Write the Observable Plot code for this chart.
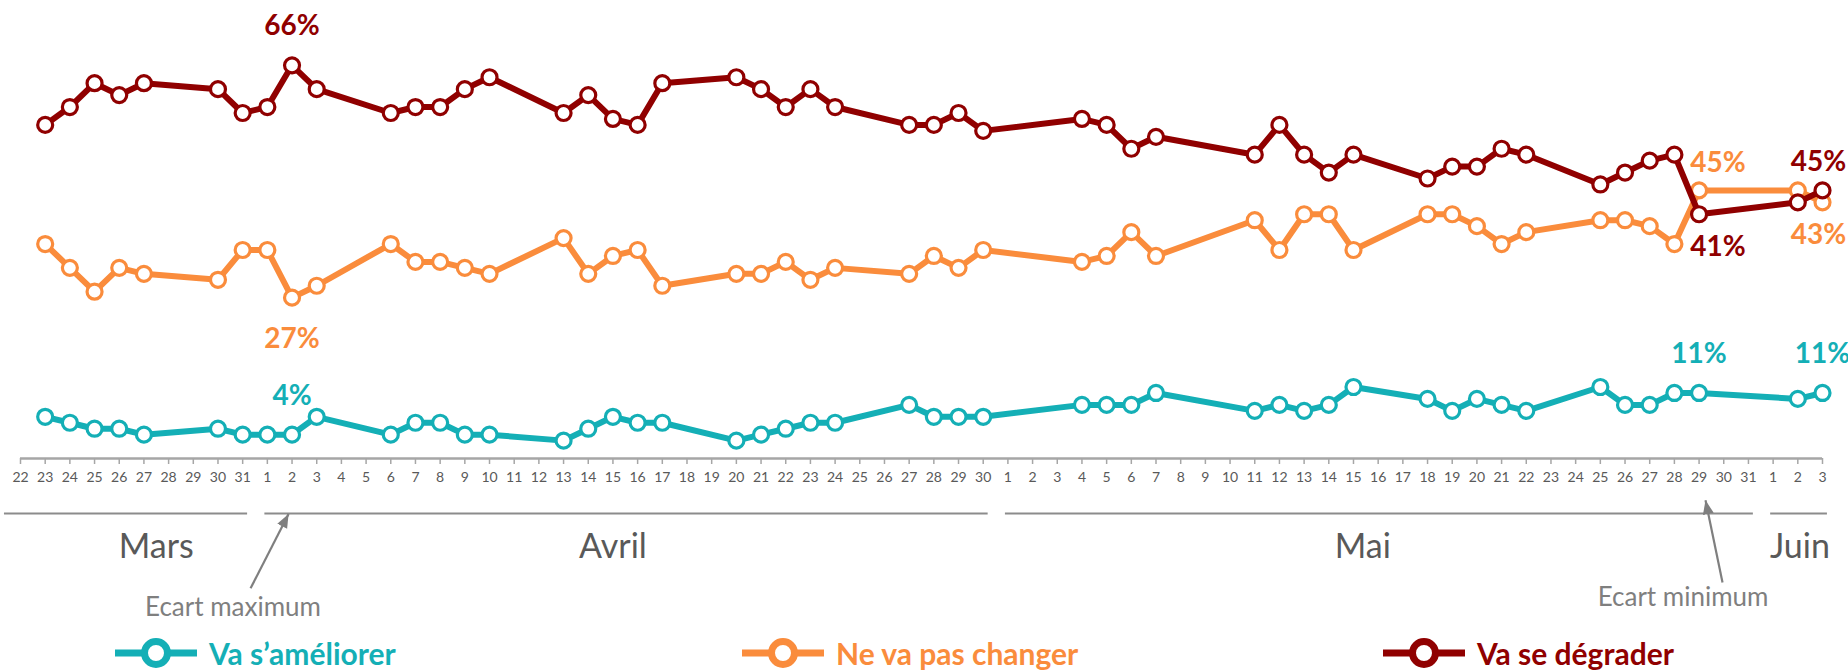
<!DOCTYPE html>
<html>
<head>
<meta charset="utf-8">
<script src="https://cdn.jsdelivr.net/npm/d3@7"></script>
<script src="https://cdn.jsdelivr.net/npm/@observablehq/plot@0.6"></script>
<style>
  body { margin: 0; background: #fff; font-family: Lato, "Open Sans", sans-serif; }
  #chart svg { display: block; }
  #legend { position: relative; width: 1848px; height: 34px; }
  .item { position: absolute; top: 0; height: 34px; display: flex; align-items: center;
          font-weight: 700; font-size: 30px; white-space: nowrap; }
  .item svg { display: block; }
  .item span { margin-left: 12px; }
</style>
</head>
<body>
<div id="chart"></div>
<div id="legend"></div>
<script>
// ---- Data ----
const dates = [
  "2020-03-23","2020-03-24","2020-03-25","2020-03-26","2020-03-27","2020-03-30","2020-03-31",
  "2020-04-01","2020-04-02","2020-04-03","2020-04-06","2020-04-07","2020-04-08","2020-04-09","2020-04-10",
  "2020-04-13","2020-04-14","2020-04-15","2020-04-16","2020-04-17","2020-04-20","2020-04-21","2020-04-22",
  "2020-04-23","2020-04-24","2020-04-27","2020-04-28","2020-04-29","2020-04-30",
  "2020-05-04","2020-05-05","2020-05-06","2020-05-07","2020-05-11","2020-05-12","2020-05-13","2020-05-14",
  "2020-05-15","2020-05-18","2020-05-19","2020-05-20","2020-05-21","2020-05-22","2020-05-25","2020-05-26",
  "2020-05-27","2020-05-28","2020-05-29",
  "2020-06-02","2020-06-03"
];
const ameliorer = [
  7,6,5,5,4,5,4,
  4,4,7,4,6,6,4,4,
  3,5,7,6,6,3,4,5,
  6,6,9,7,7,7,
  9,9,9,11,8,9,8,9,
  12,10,8,10,9,8,12,9,
  9,11,11,
  10,11
];
const pasChanger = [
  36,32,28,32,31,30,35,
  35,27,29,36,33,33,32,31,
  37,31,34,35,29,31,31,33,
  30,32,31,34,32,35,
  33,34,38,34,40,35,41,41,
  35,41,41,39,36,38,40,40,
  39,36,45,
  45,43
];
const degrader = [
  56,59,63,61,63,62,58,
  59,66,62,58,59,59,62,64,
  58,61,57,56,63,64,62,59,
  62,59,56,56,58,55,
  57,56,52,54,51,56,51,48,
  51,47,49,49,52,51,46,48,
  50,51,41,
  43,45
];
const seriesNames = ["Va s’améliorer", "Ne va pas changer", "Va se dégrader"];
const seriesColors = ["#14AFB6", "#FA8C3C", "#900000"];
const axisFirstDay = "2020-03-22";
const axisLastDay = "2020-06-03";
const months = [
  {name: "Mars",  start: "2020-03-22", end: "2020-03-31", labelAt: "2020-03-27T12:00Z"},
  {name: "Avril", start: "2020-04-01", end: "2020-04-30", labelAt: "2020-04-15T00:00Z"},
  {name: "Mai",   start: "2020-05-01", end: "2020-05-31", labelAt: "2020-05-15T09:00Z"},
  {name: "Juin",  start: "2020-06-01", end: "2020-06-03", labelAt: "2020-06-02T02:00Z"}
];
// highlighted values [series, date]
const calloutsPeakAbove = [["Va se dégrader","2020-04-02"],["Va s’améliorer","2020-04-02"],["Va s’améliorer","2020-05-29"],["Va s’améliorer","2020-06-03"]];
const calloutsPeakBelow = [["Ne va pas changer","2020-04-02"]];
const calloutsMinAbove = [["Ne va pas changer","2020-05-29"]];
const calloutsMinBelow = [["Va se dégrader","2020-05-29"]];
const calloutsEndAbove = [["Va se dégrader","2020-06-03"]];
const calloutsEndBelow = [["Ne va pas changer","2020-06-03"]];
const annotations = [
  {label: "Ecart maximum", date: "2020-04-02"},
  {label: "Ecart minimum", date: "2020-05-29"}
];

// ---- Build ----
const P = s => d3.isoParse(s);
const rows = [];
[ameliorer, pasChanger, degrader].forEach((vals, s) =>
  vals.forEach((v, i) => rows.push({series: seriesNames[s], date: P(dates[i]), value: v})));
const pick = list => list.map(([s, d]) => rows.find(r => r.series === s && +r.date === +P(d)));
const shift = (d, k) => new Date(+d + k * 864e5);
const days = d3.utcDay.range(P(axisFirstDay), shift(P(axisLastDay), 1));
const monthRows = months.map(m => ({name: m.name, start: P(m.start), end: P(m.end), labelAt: P(m.labelAt)}));
const annRows = annotations.map(a => ({label: a.label, date: P(a.date)}));

function arrowHead(color) {
  const ns = "http://www.w3.org/2000/svg";
  const m = document.createElementNS(ns, "marker");
  m.setAttribute("viewBox", "-14 -6 14 12");
  m.setAttribute("markerWidth", 14);
  m.setAttribute("markerHeight", 12);
  m.setAttribute("markerUnits", "userSpaceOnUse");
  m.setAttribute("orient", "auto");
  m.setAttribute("refX", 0);
  m.setAttribute("refY", 0);
  const p = document.createElementNS(ns, "path");
  p.setAttribute("d", "M0,0L-14,-5.5L-14,5.5Z");
  p.setAttribute("fill", color);
  p.setAttribute("stroke", "none");
  m.appendChild(p);
  return m;
}

const label = (list, dx, dy) => Plot.text(pick(list), {
  x: "date", y: "value", text: d => `${d.value}%`, fill: "series",
  dx, dy, fontSize: 28, fontWeight: "bold"
});

const seriesMarks = seriesNames.flatMap(s => [
  Plot.line(rows, {filter: d => d.series === s, x: "date", y: "value", stroke: "series",
    strokeWidth: 6, strokeLinejoin: "round", strokeLinecap: "round"}),
  Plot.dot(rows, {filter: d => d.series === s, x: "date", y: "value", stroke: "series",
    fill: "white", r: 7.5, strokeWidth: 3.2})
]);

const chart = Plot.plot({
  width: 1848, height: 636,
  marginLeft: 20, marginRight: 26, marginTop: 41, marginBottom: 178,
  style: {fontFamily: "Lato, 'Open Sans', sans-serif", background: "#fff", overflow: "visible"},
  x: {type: "utc", domain: [P(axisFirstDay), P(axisLastDay)], axis: null, label: null},
  y: {domain: [0, 70], axis: null, label: null},
  color: {domain: seriesNames, range: seriesColors},
  marks: [
    Plot.ruleY([0], {stroke: "#A6A6A6", strokeWidth: 2.5}),
    Plot.axisX(days, {tickFormat: d3.utcFormat("%-d"), tickSize: 6, tickPadding: 8, fontSize: 14,
      stroke: "#A6A6A6", strokeWidth: 1.5, fill: "#595959", label: null}),
    Plot.ruleY(monthRows, {y: 0, x1: (d, i) => shift(d.start, i === 0 ? -0.65 : -0.1),
      x2: d => shift(d.end, 0.2), dy: 55, stroke: "#8C8C8C", strokeWidth: 2}),
    Plot.text(monthRows, {x: "labelAt", y: 0, dy: 89, text: "name", fontSize: 34, fill: "#595959"}),
    ...seriesMarks,
    label(calloutsPeakAbove, 0, -39),
    label(calloutsPeakBelow, 0, 41),
    label(calloutsMinAbove, 19, -27),
    label(calloutsMinBelow, 19, 33),
    label(calloutsEndAbove, -4, -28),
    label(calloutsEndBelow, -4, 33),
    // annotations
    Plot.link(annRows.slice(0, 1), {x1: d => shift(d.date, -1.68), y1: -21.8, x2: d => shift(d.date, -0.14), y2: -9.3,
      stroke: "#7F7F7F", strokeWidth: 2.2, markerEnd: arrowHead}),
    Plot.link(annRows.slice(1, 2), {x1: d => shift(d.date, 0.95), y1: -20.8, x2: d => shift(d.date, 0.26), y2: -7.0,
      stroke: "#7F7F7F", strokeWidth: 2.2, markerEnd: arrowHead}),
    Plot.text(annRows.slice(0, 1), {x: "date", y: 0, dy: 149, dx: -59, text: "label", fontSize: 26, fill: "#7F7F7F"}),
    Plot.text(annRows.slice(1, 2), {x: "date", y: 0, dy: 139, dx: -16, text: "label", fontSize: 26, fill: "#7F7F7F"})
  ]
});
document.getElementById("chart").appendChild(chart);

// ---- Legend ----
const legendLeft = [115, 742, 1383];
const legend = document.getElementById("legend");
seriesNames.forEach((name, i) => {
  const c = seriesColors[i];
  const item = document.createElement("div");
  item.className = "item";
  item.style.left = legendLeft[i] + "px";
  item.style.color = c;
  item.innerHTML = `<svg width="82" height="34"><line x1="0" x2="82" y1="17" y2="17" stroke="${c}" stroke-width="7"/>` +
    `<circle cx="41" cy="17" r="11.5" fill="#fff" stroke="${c}" stroke-width="7"/></svg><span>${name}</span>`;
  legend.appendChild(item);
});
</script>
</body>
</html>
